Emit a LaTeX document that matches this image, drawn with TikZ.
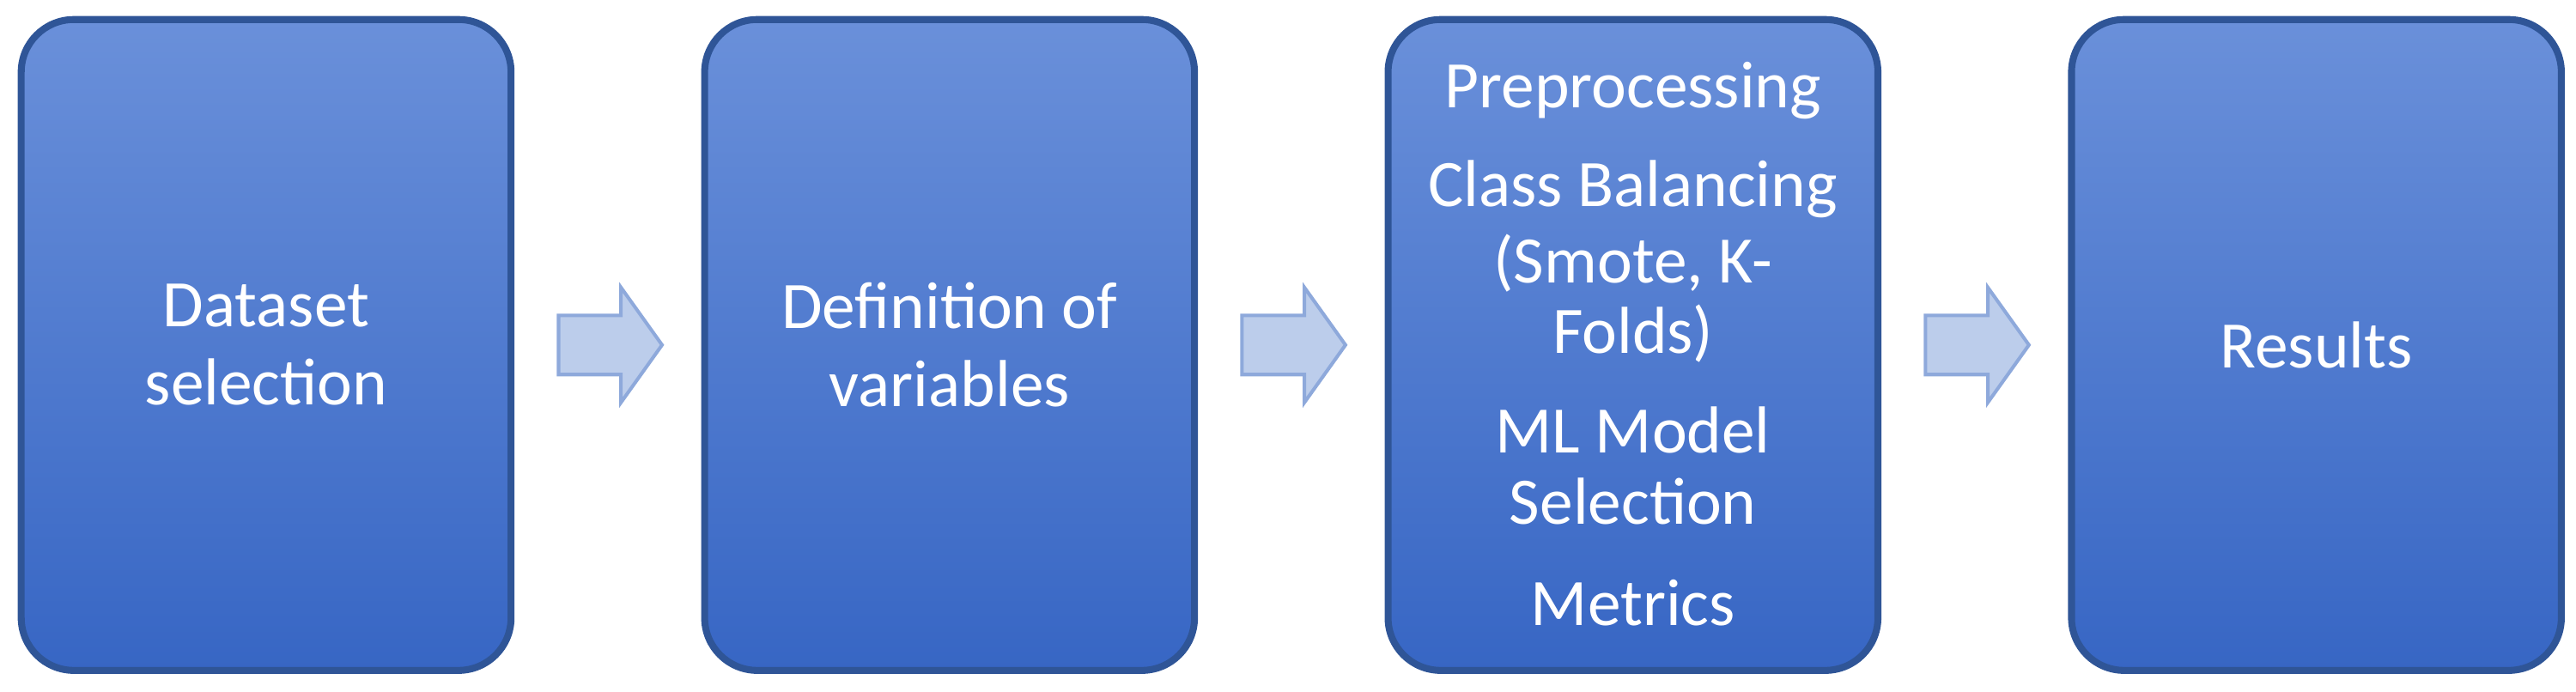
\documentclass[tikz,border=0pt]{standalone}
\usepackage{fontspec}
\setmainfont{Carlito}
\definecolor{btop}{HTML}{6A90DA}
\definecolor{bbot}{HTML}{3766C4}
\definecolor{bdr}{HTML}{2F5597}
\definecolor{afill}{HTML}{BCCDEB}
\definecolor{adraw}{HTML}{8EA9DB}
\begin{document}
\begin{tikzpicture}[x=0.01cm,y=-0.01cm,
  box/.style={draw=bdr,line width=1.2pt,rounded corners=0.32cm,top color=btop,bottom color=bbot,minimum width=2.98cm,minimum height=3.96cm,text=white,align=center,font=\fontsize{11.5}{13.5}\selectfont},
  arr/.style={draw=adraw,fill=afill,line width=0.6pt}]
\useasboundingbox (0,0) rectangle (1568,421);
\node[box] (b1) at (162,210) {Dataset\\selection};
\node[box] (b2) at (578,210) {Definition of\\variables};
\node[box] (b3) at (994,210) {};
\node[box] (b4) at (1410,210) {Results};
\begin{scope}[every node/.style={text=white,font=\fontsize{11.5}{13.5}\selectfont}]
\node (t1) at (994,55) {Preprocessing};
\node (t2) at (994,115) {Class Balancing};
\node (t3) at (994,160) {(Smote, K-};
\node (t4) at (994,203) {Folds)};
\node (t5) at (994,262) {ML Model};
\node (t6) at (994,305) {Selection};
\node (t7) at (994,367) {Metrics};
\end{scope}
\foreach \x in {340,756,1172}{
  \draw[arr] (\x,192) -- (\x+38,192) -- (\x+38,175) -- (\x+63,210) -- (\x+38,245) -- (\x+38,228) -- (\x,228) -- cycle;
}
\end{tikzpicture}
\end{document}
